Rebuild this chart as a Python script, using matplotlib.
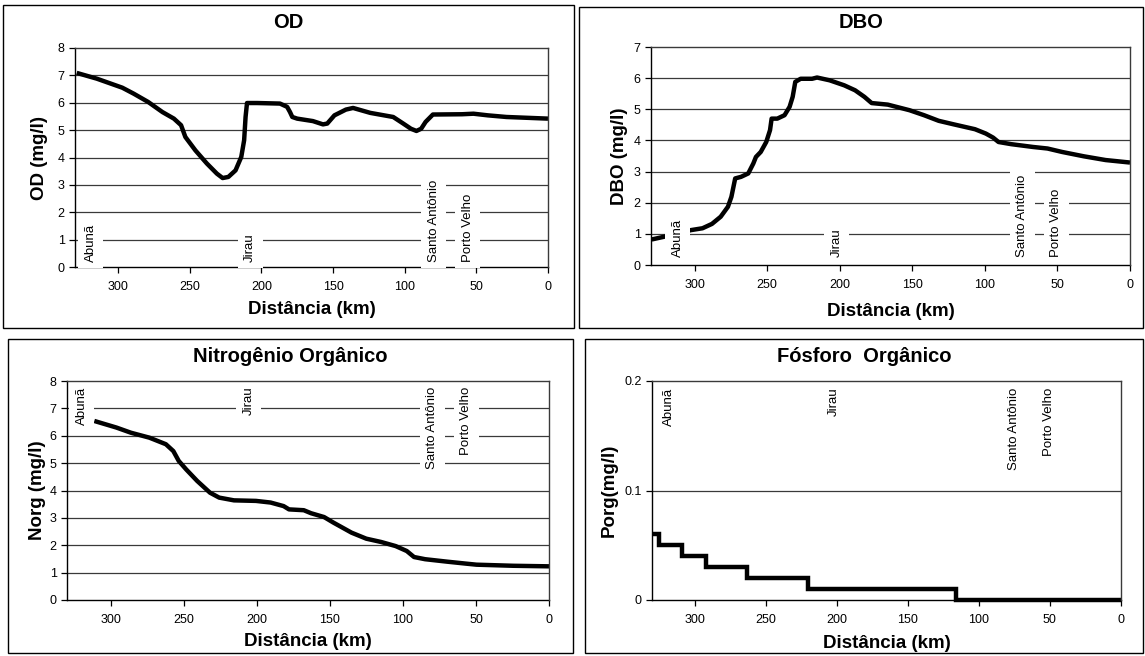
import matplotlib
matplotlib.use("Agg")
import matplotlib.pyplot as plt
from matplotlib.patches import Rectangle

plt.rcParams['font.family'] = ['Liberation Sans', 'DejaVu Sans']

# OD (mg/l) ao longo do rio
od_km = [328.8, 314.8, 297, 289, 279, 269, 261, 256, 253, 246, 238, 231, 227, 223, 218, 214,
         212, 211, 210, 203, 187, 182, 180, 178.4, 175, 164, 157, 154, 149, 141, 136, 130,
         124, 108, 101, 95.6, 91.8, 88.5, 85.4, 80.3, 60, 52, 42, 29, 0]
od_val = [7.09, 6.88, 6.55, 6.33, 6.03, 5.66, 5.42, 5.18, 4.75, 4.26, 3.78, 3.41, 3.25, 3.29, 3.53, 4.02,
          4.63, 5.48, 5.99, 5.99, 5.97, 5.85, 5.66, 5.48, 5.42, 5.33, 5.21, 5.24, 5.54, 5.75, 5.81, 5.72,
          5.63, 5.48, 5.24, 5.05, 4.97, 5.05, 5.30, 5.57, 5.58, 5.60, 5.54, 5.48, 5.42]

# DBO (mg/l)
dbo_km = [329.5, 320.7, 302.5, 294.5, 288, 282, 277, 274.6, 272, 268, 263, 259.5, 257.7, 254.4,
          250.6, 248, 246.9, 243, 238, 234.5, 232.4, 230.6, 226.9, 219, 215.6, 206.9, 196.9, 189.4,
          183, 178, 166.9, 151.9, 141.9, 131.8, 121.8, 106.8, 99.3, 94.3, 90.6, 81.8, 66.8, 56.8,
          46.8, 31.8, 16.8, 0]
dbo_val = [0.82, 0.91, 1.12, 1.18, 1.32, 1.55, 1.87, 2.19, 2.78, 2.83, 2.94, 3.26, 3.47, 3.63,
           3.95, 4.33, 4.70, 4.70, 4.81, 5.08, 5.40, 5.88, 5.98, 5.98, 6.02, 5.93, 5.77, 5.61,
           5.40, 5.20, 5.15, 4.97, 4.81, 4.63, 4.52, 4.36, 4.22, 4.09, 3.95, 3.88, 3.79, 3.74,
           3.63, 3.49, 3.37, 3.29]

# Nitrogenio organico (mg/l)
norg_km = [311.3, 296.2, 286.2, 273.6, 262.3, 257.2, 253.5, 248.4, 240.9, 232.1, 225.8, 215.7,
           200.6, 190.6, 181.7, 178, 167.9, 162.9, 154, 147.7, 135.2, 125.1, 115, 105, 97.4, 92.4,
           84.8, 69.7, 57.1, 49.6, 24.4, 0]
norg_val = [6.54, 6.30, 6.11, 5.93, 5.69, 5.44, 5.08, 4.77, 4.35, 3.92, 3.74, 3.64,
            3.62, 3.56, 3.43, 3.31, 3.28, 3.17, 3.03, 2.83, 2.46, 2.24, 2.12, 1.97, 1.79, 1.57,
            1.49, 1.40, 1.33, 1.29, 1.25, 1.23]

# Fosforo organico (mg/l) - degraus
porg_km = [330, 325, 309, 292, 263, 220, 116, 0]
porg_val = [0.06, 0.05, 0.04, 0.03, 0.02, 0.01, 0.0, 0.0]

locais = ["Abunã", "Jirau", "Santo Antônio", "Porto Velho"]
od_locais_km = [319, 207.7, 79.7, 56]
dbo_locais_km = [311.5, 202, 74.3, 50.7]
norg_locais_km = [320, 205.6, 79.8, 56.6]
porg_locais_km = [318, 202, 75, 51]

W, H = 1145, 656
fig = plt.figure(figsize=(W / 100, H / 100), dpi=100)


def px_axes(left, top, right, bottom):
    return fig.add_axes([left / W, 1 - bottom / H, (right - left) / W, (bottom - top) / H])


def fig_txt(x, y, s, **kw):
    fig.text(x / W, 1 - y / H, s, ha='center', va='center', **kw)


def painel(box, ax_px, titulo, title_y, ylabel, ylabel_x, xlabel_y, km, val, yticks, ylim,
           locais_km, loc_y, loc_va, ytick_labels=None, steps=False):
    bx0, by0, bx1, by1 = box
    fig.patches.append(Rectangle((bx0 / W, 1 - by1 / H), (bx1 - bx0) / W, (by1 - by0) / H,
                                 transform=fig.transFigure, fill=False, edgecolor='black', lw=1.0))
    ax = px_axes(*ax_px)
    for v in yticks[1:-1]:
        ax.axhline(v, color='#3a3a3a', lw=0.9, zorder=1)
    if steps:
        ax.plot(km, val, color='black', lw=3.2, drawstyle='steps-post', zorder=3,
                solid_joinstyle='miter', solid_capstyle='butt', clip_on=False)
    else:
        ax.plot(km, val, color='black', lw=3.2, zorder=3, solid_capstyle='butt')
    ax.set_xlim(330, 0)
    ax.set_ylim(*ylim)
    ax.set_xticks([300, 250, 200, 150, 100, 50, 0])
    ax.set_yticks(yticks)
    if ytick_labels is not None:
        ax.set_yticklabels(ytick_labels)
    ax.tick_params(labelsize=9, length=4, width=0.9, direction='out', colors='black')
    ax.tick_params(axis='x', pad=6)
    for s in ['left', 'bottom']:
        ax.spines[s].set_linewidth(1.0)
    for s in ['top', 'right']:
        ax.spines[s].set_color('#3a3a3a')
        ax.spines[s].set_linewidth(1.0)
    for s in ['top', 'right', 'left']:
        ax.spines[s].set_zorder(6)
    for nome, x in zip(locais, locais_km):
        ax.text(x, loc_y, nome, rotation=90, ha='center', va=loc_va, fontsize=9.5, zorder=5,
                bbox=dict(boxstyle='square,pad=0.5', facecolor='white', edgecolor='none'))
    cx_box = (bx0 + bx1) / 2
    cx_ax = (ax_px[0] + ax_px[2]) / 2
    fig_txt(cx_box, title_y, titulo, fontsize=14.5, fontweight='bold')
    fig_txt(cx_ax, xlabel_y, "Distância (km)", fontsize=13.5, fontweight='bold')
    fig_txt(ylabel_x, (ax_px[1] + ax_px[3]) / 2, ylabel, fontsize=13.5, fontweight='bold', rotation=90)
    return ax


painel((3, 5, 574, 328), (75, 48, 548, 267), "OD", 23, "OD (mg/l)", 40, 310,
       od_km, od_val, list(range(0, 9)), (0, 8), od_locais_km, 0.2, 'bottom')
painel((579, 7, 1143, 328), (651, 47, 1130, 265), "DBO", 23, "DBO (mg/l)", 619, 312,
       dbo_km, dbo_val, list(range(0, 8)), (0, 7), dbo_locais_km, 0.25, 'bottom')
painel((8, 339, 573, 653), (67, 381, 549, 600), "Nitrogênio Orgânico", 357, "Norg (mg/l)", 38, 641,
       norg_km, norg_val, list(range(0, 9)), (0, 8), norg_locais_km, 7.8, 'top')
painel((585, 339, 1143, 653), (652, 381, 1121, 600), "Fósforo  Orgânico", 357, "Porg(mg/l)", 609, 643,
       porg_km, porg_val, [0, 0.1, 0.2], (0, 0.2), porg_locais_km, 0.194, 'top',
       ytick_labels=["0", "0.1", "0.2"], steps=True)

fig.savefig("out.png", dpi=100)
